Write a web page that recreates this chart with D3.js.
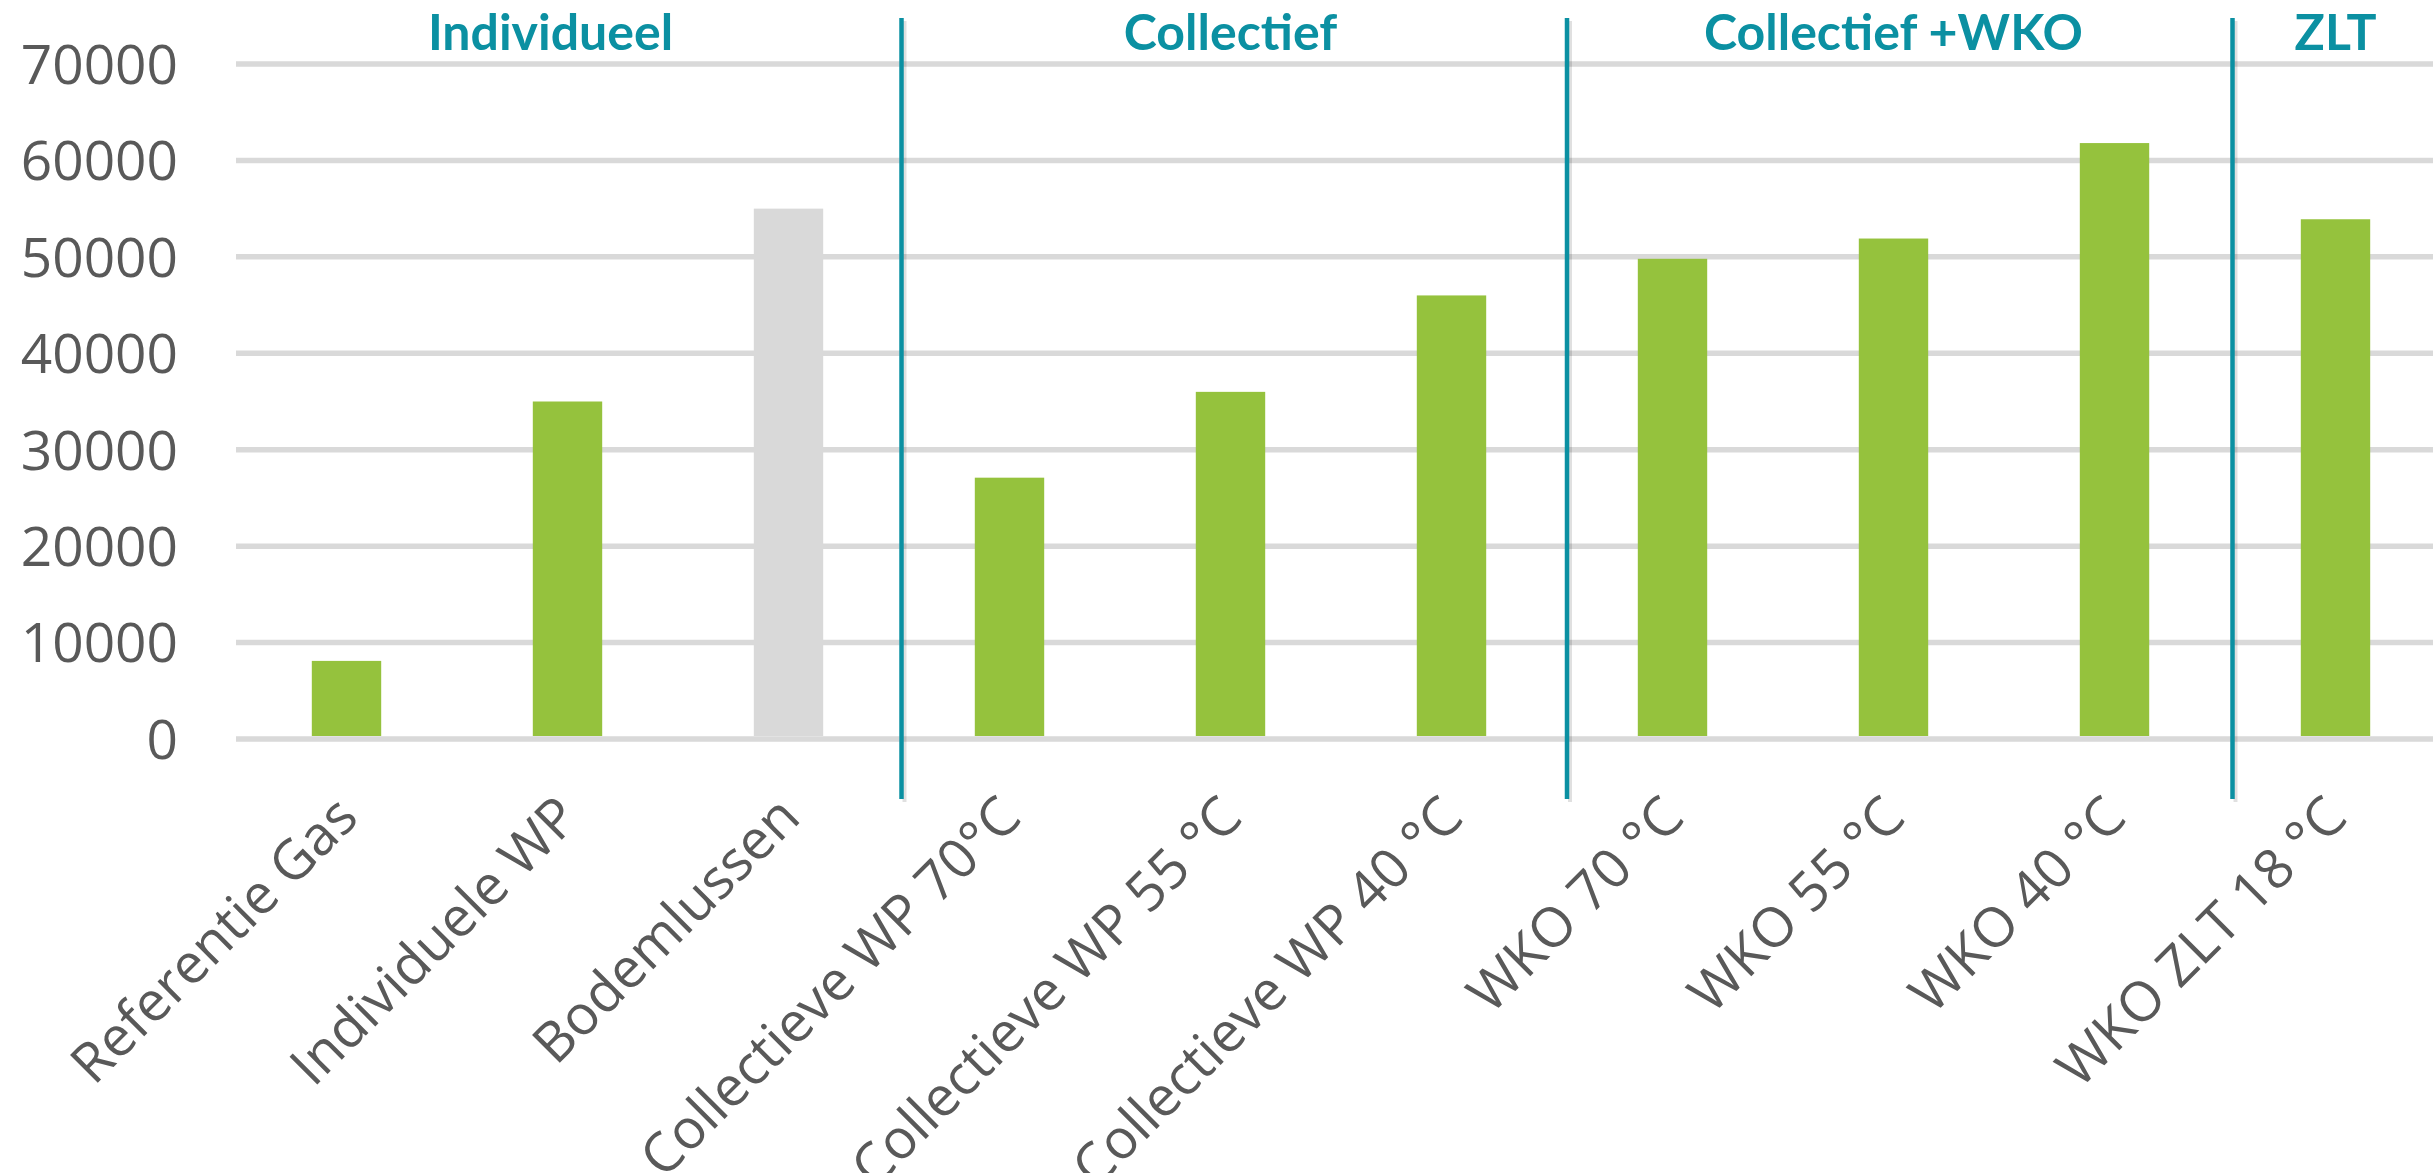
<!DOCTYPE html>
<html>
<head>
<meta charset="utf-8">
<script src="https://cdn.jsdelivr.net/npm/d3@7"></script>
<style>
  body { margin: 0; background: #fff; }
  svg { display: block; }
</style>
</head>
<body>
<svg id="chart"></svg>
<script>
// data
const categories = ['Referentie Gas', 'Individuele WP', 'Bodemlussen',
	'Collectieve WP 70°C', 'Collectieve WP 55 °C', 'Collectieve WP 40 °C',
	'WKO 70 °C', 'WKO 55 °C', 'WKO 40 °C', 'WKO ZLT 18 °C'];
const values = [8100, 35000, 55000, 27100, 36000, 46000, 49800, 51900, 61800, 53900];
const greyCategories = ['Bodemlussen'];
const groups = ['Individueel', 'Collectief', 'Collectief +WKO', 'ZLT'];
const groupSizes = [3, 3, 3, 1];
const yTicks = [0, 10000, 20000, 30000, 40000, 50000, 60000, 70000];

const width = 2433, height = 1173;
const teal = '#0b90a2';

const svg = d3.select('#chart')
	.attr('width', width)
	.attr('height', height);

const x = d3.scaleBand()
	.domain(categories)
	.range([236, 2446])
	.paddingInner(0.686)
	.paddingOuter(0.343);

const y = d3.scaleLinear()
	.domain([0, 70000])
	.range([739, 64]);

// gridlines
svg.append('g')
	.selectAll('line')
	.data(yTicks)
	.join('line')
	.attr('x1', 236)
	.attr('x2', width)
	.attr('y1', d => y(d))
	.attr('y2', d => y(d))
	.attr('stroke', '#d9d9d9')
	.attr('stroke-width', 5.5);

// y labels
svg.append('g')
	.selectAll('text')
	.data(yTicks)
	.join('text')
	.attr('x', 178)
	.attr('y', d => y(d))
	.attr('dy', '0.36em')
	.attr('text-anchor', 'end')
	.style('font-family', '"Open Sans", sans-serif')
	.style('font-size', '55px')
	.attr('fill', '#595959')
	.text(d => d);

// bars
svg.append('g')
	.selectAll('rect')
	.data(categories)
	.join('rect')
	.attr('x', d => x(d))
	.attr('width', x.bandwidth())
	.attr('y', (d, i) => y(values[i]))
	.attr('height', (d, i) => y(0) - 3 - y(values[i]))
	.attr('fill', d => greyCategories.includes(d) ? '#d9d9d9' : '#95c23d');

// x labels
svg.append('g')
	.selectAll('text')
	.data(categories)
	.join('text')
	.attr('transform', d => `translate(${x(d) + x.bandwidth() / 2},${806}) rotate(-45)`)
	.attr('dy', '0.36em')
	.attr('text-anchor', 'end')
	.style('font-family', '"Open Sans", sans-serif')
	.style('font-size', '55px')
	.attr('fill', '#595959')
	.text(d => d);

// group separators and headers
const gap = (x.step() - x.bandwidth()) / 2;
let start = 0;
const bounds = groupSizes.map(n => {
	const first = categories[start];
	const last = categories[start + n - 1];
	start += n;
	return { left: x(first) - gap, right: x(last) + x.bandwidth() + gap };
});
const sepX = (d, i) => d.left + 2.5 * (i + 1);

const seps = svg.append('g');
// faint shadow to the right of each line
seps.selectAll('line.shadow')
	.data(bounds.slice(1))
	.join('line')
	.attr('class', 'shadow')
	.attr('x1', (d, i) => sepX(d, i) + 3)
	.attr('x2', (d, i) => sepX(d, i) + 3)
	.attr('y1', 21)
	.attr('y2', 802)
	.attr('stroke', '#000')
	.attr('stroke-opacity', 0.12)
	.attr('stroke-width', 4);

seps.selectAll('line.sep')
	.data(bounds.slice(1))
	.join('line')
	.attr('class', 'sep')
	.attr('x1', sepX)
	.attr('x2', sepX)
	.attr('y1', 18)
	.attr('y2', 799)
	.attr('stroke', teal)
	.attr('stroke-width', 4.5);

svg.append('g')
	.selectAll('text')
	.data(groups)
	.join('text')
	// first header sits a little left of its group's middle
	.attr('x', (d, i) => (bounds[i].left - (i === 0 ? 34 : 0) + bounds[i].right) / 2)
	.attr('y', 50)
	.attr('text-anchor', 'middle')
	.style('font-family', 'Lato, sans-serif')
	.style('font-weight', 'bold')
	.style('font-size', '50px')
	.attr('fill', teal)
	.text(d => d);
</script>
</body>
</html>
